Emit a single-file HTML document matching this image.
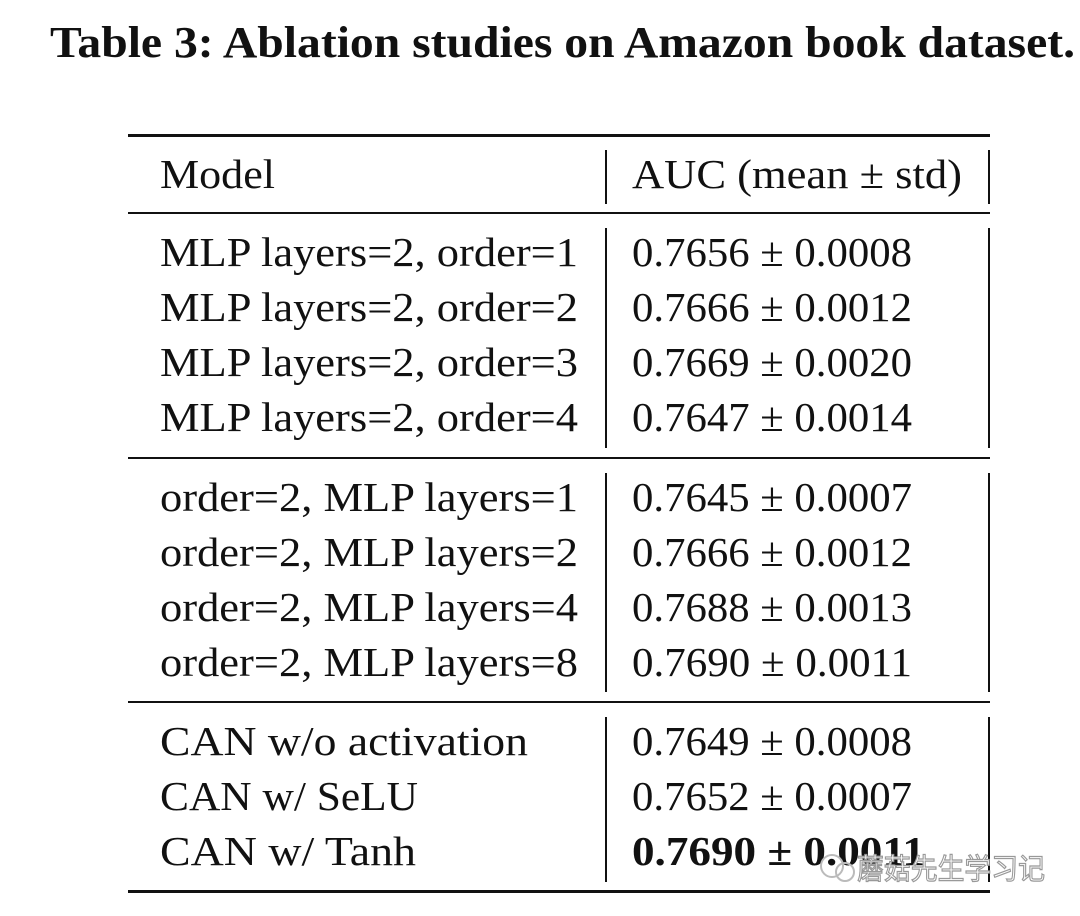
<!DOCTYPE html>
<html><head><meta charset="utf-8"><style>
html,body{margin:0;padding:0;background:#fff;}
svg{display:block;}
text{font-family:"Liberation Serif",serif;fill:#111;}
</style></head><body>
<svg width="1080" height="916" viewBox="0 0 1080 916">
<text x="50" y="57" font-size="44" font-weight="bold" textLength="1025" lengthAdjust="spacingAndGlyphs">Table 3: Ablation studies on Amazon book dataset.</text>
<g id="rules" fill="#111"></g>
<text x="160" y="188" font-size="41" textLength="115" lengthAdjust="spacingAndGlyphs">Model</text>
<text x="632" y="188" font-size="41" textLength="330" lengthAdjust="spacingAndGlyphs">AUC (mean ± std)</text>
<g id="rows"></g>
<g>
<circle cx="832" cy="866" r="11" fill="none" stroke="#bbb" stroke-width="2"/>
<circle cx="845" cy="872" r="9" fill="none" stroke="#bbb" stroke-width="2"/>
<text x="857" y="879" font-size="29" textLength="188" lengthAdjust="spacingAndGlyphs" style="font-family:'Noto Sans CJK SC',sans-serif;fill:#fff;stroke:#999;stroke-width:1.2">蘑菇先生学习记</text>
</g>
</svg>
<script>
const models=["MLP layers=2, order=1","MLP layers=2, order=2","MLP layers=2, order=3","MLP layers=2, order=4","order=2, MLP layers=1","order=2, MLP layers=2","order=2, MLP layers=4","order=2, MLP layers=8","CAN w/o activation","CAN w/ SeLU","CAN w/ Tanh"];
const aucs=["0.7656 ± 0.0008","0.7666 ± 0.0012","0.7669 ± 0.0020","0.7647 ± 0.0014","0.7645 ± 0.0007","0.7666 ± 0.0012","0.7688 ± 0.0013","0.7690 ± 0.0011","0.7649 ± 0.0008","0.7652 ± 0.0007","0.7690 ± 0.0011"];
const modelWidths=[418,418,418,418,418,418,418,418,368,258,256];
const baselines=[266,321,376,431,511,566,621,676,755,810,865];
const NS="http://www.w3.org/2000/svg";
const rows=document.getElementById('rows');
models.forEach((m,i)=>{
  const t=document.createElementNS(NS,'text');
  t.setAttribute('x',160);t.setAttribute('y',baselines[i]);t.setAttribute('font-size',41);
  t.setAttribute('textLength',modelWidths[i]);t.setAttribute('lengthAdjust','spacingAndGlyphs');
  t.textContent=m;
  
  
  rows.appendChild(t);
  const a=document.createElementNS(NS,'text');
  a.setAttribute('x',632);a.setAttribute('y',baselines[i]);a.setAttribute('font-size',41);
  const bold=i===10;
  if(bold)a.setAttribute('font-weight','bold');
  a.setAttribute('textLength',bold?293:280);a.setAttribute('lengthAdjust','spacingAndGlyphs');
  a.textContent=aucs[i];
  
  
  rows.appendChild(a);
});
const rules=document.getElementById('rules');
[[134,3],[212,2],[457,2],[701,2],[890,3]].forEach(r=>{
  const e=document.createElementNS(NS,'rect');
  e.setAttribute('x',128);e.setAttribute('y',r[0]);e.setAttribute('width',862);e.setAttribute('height',r[1]);
  
  
  rules.appendChild(e);
});
[[150,204],[228,448],[473,692],[717,882]].forEach(s=>{
  [605,988].forEach(x=>{
    const e=document.createElementNS(NS,'rect');
    e.setAttribute('x',x);e.setAttribute('y',s[0]);e.setAttribute('width',2);e.setAttribute('height',s[1]-s[0]);
    
    
    rules.appendChild(e);
  });
});
</script>
</body></html>
